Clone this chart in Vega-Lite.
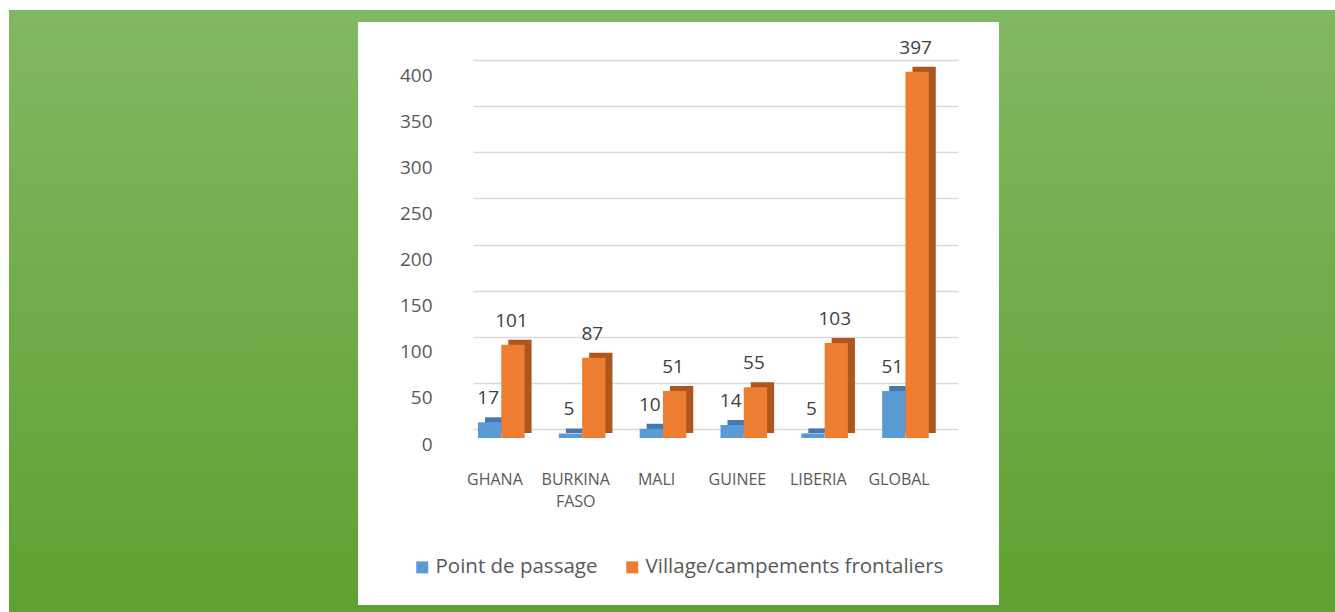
{
  "$schema": "https://vega.github.io/schema/vega-lite/v6.json",
  "background": "white",
  "padding": {"left": 9, "top": 10, "right": 0, "bottom": 0},
  "config": {"view": {"stroke": null}},
  "spacing": 0,
  "resolve": {"scale": {"color": "independent", "fill": "independent"}},
  "vconcat": [
    {
      "width": 1326, "height": 12,
      "data": {"values": []},
      "mark": "rect",
      "view": {"fill": "#81B762", "stroke": null}
    },
    {
      "spacing": 41,
      "resolve": {"scale": {"color": "independent", "fill": "independent"}},
      "hconcat": [
        {
          "width": 349, "height": 583,
          "data": {"values": []},
          "mark": "rect",
          "view": {"stroke": null, "fill": {"gradient": "linear", "x1": 0, "y1": 0, "x2": 0, "y2": 1, "stops": [{"offset": 0, "color": "#81B762"}, {"offset": 1, "color": "#5FA132"}]}}
        },
        {
          "width": 485, "height": 407,
          "data": {"values": [
            {"pays": "GHANA", "serie": "Point de passage", "valeur": 17},
            {"pays": "GHANA", "serie": "Village/campements frontaliers", "valeur": 101},
            {"pays": "BURKINA FASO", "serie": "Point de passage", "valeur": 5},
            {"pays": "BURKINA FASO", "serie": "Village/campements frontaliers", "valeur": 87},
            {"pays": "MALI", "serie": "Point de passage", "valeur": 10},
            {"pays": "MALI", "serie": "Village/campements frontaliers", "valeur": 51},
            {"pays": "GUINEE", "serie": "Point de passage", "valeur": 14},
            {"pays": "GUINEE", "serie": "Village/campements frontaliers", "valeur": 55},
            {"pays": "LIBERIA", "serie": "Point de passage", "valeur": 5},
            {"pays": "LIBERIA", "serie": "Village/campements frontaliers", "valeur": 103},
            {"pays": "GLOBAL", "serie": "Point de passage", "valeur": 51},
            {"pays": "GLOBAL", "serie": "Village/campements frontaliers", "valeur": 397}
          ]},
          "encoding": {
            "x": {
              "field": "pays", "type": "nominal", "sort": null,
              "scale": {"paddingInner": 0, "paddingOuter": 0},
              "axis": {
                "title": null, "domain": false, "ticks": false, "grid": false,
                "labelAngle": 0, "labelPadding": 42, "labelOffset": -18.5,
                "labelFont": "Open Sans", "labelFontSize": 16, "labelColor": "#595959",
                "labelLineHeight": 22,
                "labelExpr": "datum.label == 'BURKINA FASO' ? ['BURKINA', 'FASO'] : datum.label"
              }
            },
            "y": {
              "field": "valeur", "type": "quantitative",
              "scale": {"domain": [0, 441.2], "nice": false},
              "axis": {
                "title": null, "domain": false, "ticks": false,
                "values": [0, 50, 100, 150, 200, 250, 300, 350, 400],
                "grid": true, "gridColor": "#D9D9D9", "gridWidth": 1.5,
                "labelPadding": 41, "labelOffset": 15,
                "labelFont": "Open Sans", "labelFontSize": 19, "labelColor": "#595959"
              }
            }
          },
          "resolve": {"scale": {"xOffset": "independent"}},
          "layer": [
            {
              "mark": {"type": "bar", "yOffset": 4, "y2Offset": 4},
              "encoding": {
                "xOffset": {
                  "field": "serie", "type": "nominal",
                  "scale": {"range": [12, 58.6], "paddingInner": 0, "paddingOuter": 0}
                },
                "fill": {
                  "field": "serie", "type": "nominal",
                  "scale": {"range": ["#4677AE", "#AF561E"]},
                  "legend": null
                }
              }
            },
            {
              "mark": {"type": "bar", "yOffset": 9, "y2Offset": 9},
              "encoding": {
                "xOffset": {
                  "field": "serie", "type": "nominal",
                  "scale": {"range": [5, 51.6], "paddingInner": 0, "paddingOuter": 0}
                },
                "color": {
                  "field": "serie", "type": "nominal",
                  "scale": {"range": ["#5B9BD5", "#ED7D31"]},
                  "legend": {
                    "title": null, "orient": "none", "legendX": -61, "legendY": 535,
                    "direction": "horizontal", "symbolType": "square", "symbolSize": 144,
                    "symbolStrokeWidth": 0, "symbolOpacity": 1,
                    "labelFont": "Open Sans", "labelFontSize": 20.5, "labelColor": "#595959",
                    "labelLimit": 400, "labelOffset": 3, "columnPadding": 24
                  }
                }
              }
            },
            {
              "mark": {"type": "text", "dx": -1.5, "yOffset": -15, "baseline": "middle", "align": "center", "font": "Open Sans", "fontSize": 19, "color": "#404040"},
              "encoding": {
                "xOffset": {
                  "field": "serie", "type": "nominal",
                  "scale": {"type": "point", "range": [16.65, 39.95], "padding": 0}
                },
                "text": {"field": "valeur", "type": "quantitative"}
              }
            }
          ]
        },
        {
          "width": 336, "height": 583,
          "data": {"values": []},
          "mark": "rect",
          "view": {"stroke": null, "fill": {"gradient": "linear", "x1": 0, "y1": 0, "x2": 0, "y2": 1, "stops": [{"offset": 0, "color": "#81B762"}, {"offset": 1, "color": "#5FA132"}]}}
        }
      ]
    },
    {
      "width": 1326, "height": 7,
      "data": {"values": []},
      "mark": "rect",
      "view": {"fill": "#5FA132", "stroke": null}
    }
  ]
}
